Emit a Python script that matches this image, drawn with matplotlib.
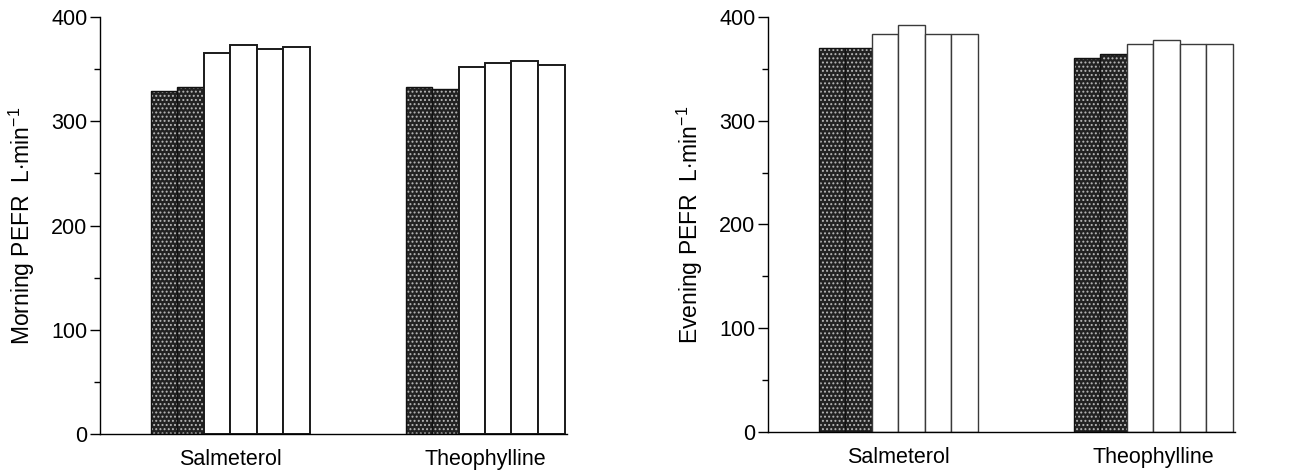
import numpy as np
import matplotlib.pyplot as plt

plt.rcParams['font.family'] = ['Liberation Sans', 'DejaVu Sans']
plt.rcParams['mathtext.fontset'] = 'custom'
plt.rcParams['mathtext.rm'] = 'Liberation Sans'
plt.rcParams['hatch.linewidth'] = 0.9

groups = ['Salmeterol', 'Theophylline']
# six bars per group: first two are run-in (dotted), next four treatment (white)
morning = [[329, 333, 365, 373, 369, 371],
           [333, 331, 352, 356, 358, 354]]
evening = [[370, 370, 384, 392, 384, 384],
           [360, 364, 374, 378, 374, 374]]
ylabels = ['Morning PEFR  L$\\cdot$min$^{\\mathregular{-1}}$',
           'Evening PEFR  L$\\cdot$min$^{\\mathregular{-1}}$']
edge_w = [1.4, 1.0]
edge_c = ['#1a1a1a', '#3a3a3a']

fig = plt.figure(figsize=(12.89, 4.74), dpi=100)
ax1 = fig.add_axes([100/1289, 1-434/474, 467/1289, 417/474])
ax2 = fig.add_axes([768/1289, 1-432/474, 467/1289, 415/474])

w = 26.5/255
offs = (np.arange(6) - 2.5) * w

for k, (ax, data, lab) in enumerate(zip([ax1, ax2], [morning, evening], ylabels)):
    for g, vals in enumerate(data):
        for i, v in enumerate(vals):
            x = g + offs[i]
            if i < 2:
                ax.bar(x, v, w, color='#222222', edgecolor='#b8b8b8', hatch='....', linewidth=0)
                ax.bar(x, v, w, fill=False, edgecolor='#111111', linewidth=1.0)
            else:
                ax.bar(x, v, w, color='white', edgecolor=edge_c[k], linewidth=edge_w[k])
    ax.set_xlim(-130/255, 1 + 82/255)
    ax.set_ylim(0, 400)
    ax.set_xticks([0, 1])
    ax.set_xticklabels(groups, fontsize=15.5)
    ax.tick_params(axis='x', length=0, pad=11)
    ax.set_yticks([0, 100, 200, 300, 400])
    ax.set_yticks([50, 150, 250, 350], minor=True)
    ax.tick_params(axis='y', which='major', length=7, width=1, labelsize=15.5, pad=2)
    ax.tick_params(axis='y', which='minor', length=4, width=1)
    ax.spines['top'].set_visible(False)
    ax.spines['right'].set_visible(False)
    ax.spines['left'].set_linewidth(1)
    ax.spines['bottom'].set_linewidth(1)
    ax.set_ylabel(lab, fontsize=16.5, labelpad=10)

fig.savefig('out.png', dpi=100)
